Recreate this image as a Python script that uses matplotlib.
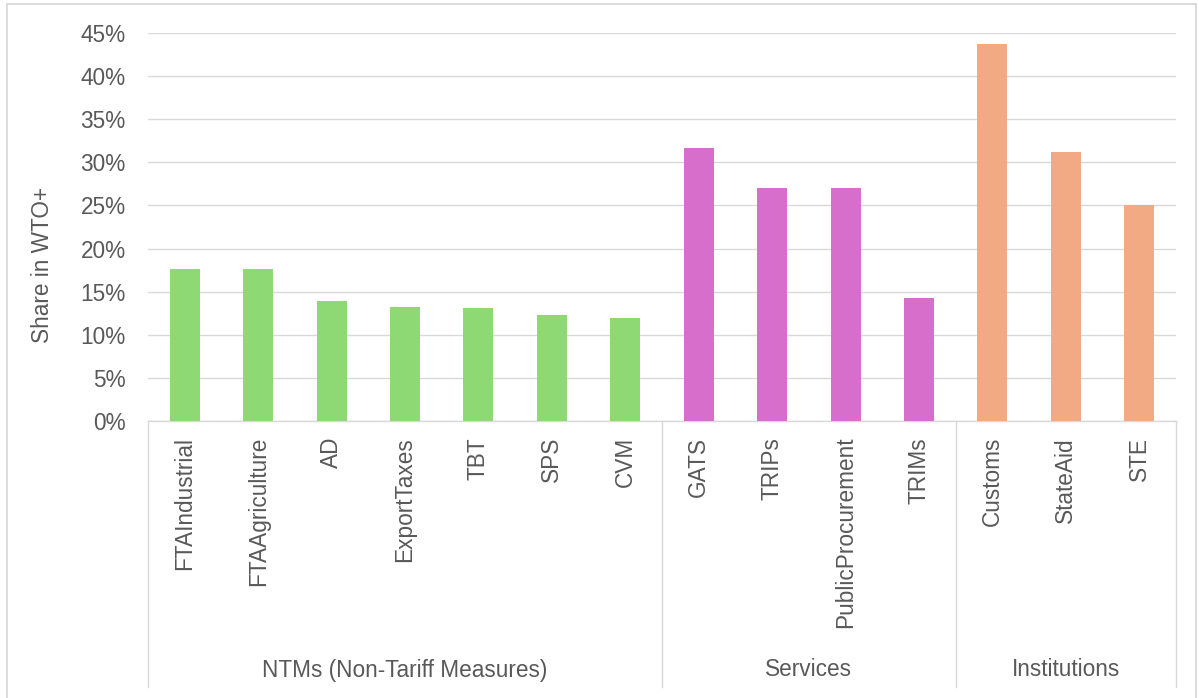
import matplotlib.pyplot as plt
from matplotlib.lines import Line2D
from matplotlib.ticker import FuncFormatter, MultipleLocator

# Share of agreements with each WTO+ provision
categories = ["FTAIndustrial", "FTAAgriculture", "AD", "ExportTaxes", "TBT", "SPS", "CVM",
              "GATS", "TRIPs", "PublicProcurement", "TRIMs",
              "Customs", "StateAid", "STE"]
shares = [0.1765, 0.1765, 0.139, 0.132, 0.1308, 0.1226, 0.120,
          0.3168, 0.2703, 0.2703, 0.1426,
          0.437, 0.312, 0.251]
groups = ["NTMs (Non-Tariff Measures)", "Services", "Institutions"]
group_sizes = [7, 4, 3]
group_colors = ["#8ED973", "#D86ECC", "#F2AA84"]

text_color = "#595959"
line_color = "#D9D9D9"
plt.rcParams["font.family"] = ["Liberation Sans", "DejaVu Sans"]
fs = 16.3

fig = plt.figure(figsize=(11.99, 6.98), dpi=100)
W, H = 1199, 698
ax = fig.add_axes([148 / W, 1 - 421 / H, (1176 - 148) / W, 388 / H])

colors = []
for c, n in zip(group_colors, group_sizes):
    colors += [c] * n
x = list(range(len(categories)))
ax.bar(x, shares, width=0.41, color=colors, zorder=3)

ax.set_xlim(-0.5, len(categories) - 0.5)
ax.set_ylim(0, 0.45)
ax.yaxis.set_major_locator(MultipleLocator(0.05))
ax.yaxis.set_major_formatter(FuncFormatter(lambda v, p: f"{v * 100:.0f}%"))
ax.grid(axis="y", color=line_color, linewidth=1.0, zorder=0)
ax.set_axisbelow(True)

for s in ["top", "right", "left"]:
    ax.spines[s].set_visible(False)
ax.spines["bottom"].set_color(line_color)
ax.spines["bottom"].set_linewidth(1.0)

ax.set_xticks(x)
ax.set_xticklabels(categories, rotation=90, fontsize=fs, color=text_color)
ax.tick_params(axis="x", length=0, pad=11.5)
ax.tick_params(axis="y", length=0, pad=16, labelsize=fs, labelcolor=text_color)

ax.set_ylabel("Share in WTO+", fontsize=fs, color=text_color)
ax.yaxis.set_label_coords(-0.0914, 0.402)

# group separators and group names below the category labels
trans = ax.get_xaxis_transform()
bottom = -(687 - 421) / 388
edges = [-0.5]
for n in group_sizes:
    edges.append(edges[-1] + n)
for e in edges:
    ax.plot([e, e], [0, bottom], transform=trans, color=line_color,
            linewidth=1.0, clip_on=False)
for g, a, b in zip(groups, edges[:-1], edges[1:]):
    ax.text((a + b) / 2, -(670 - 421) / 388, g, transform=trans, ha="center",
            va="center", fontsize=fs, color=text_color)

# chart border
for xs, ys in [([7, 7], [4, H + 5]), ([7, 1196], [4, 4]), ([1196, 1196], [4, H + 5])]:
    fig.add_artist(Line2D([v / W for v in xs], [1 - v / H for v in ys],
                          color=line_color, linewidth=1.3))

fig.savefig("out.png", dpi=100)
